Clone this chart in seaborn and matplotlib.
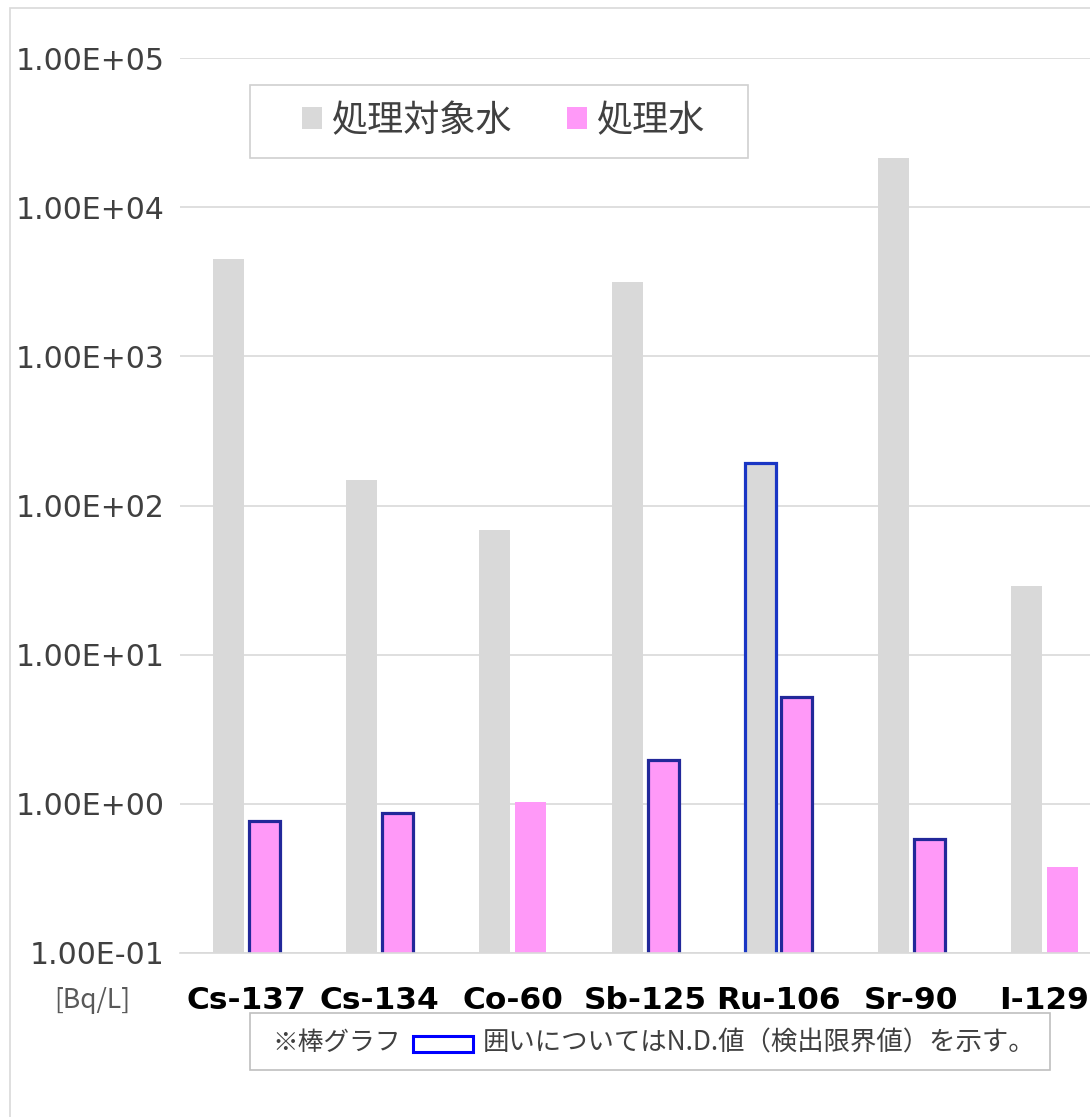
import matplotlib
matplotlib.use("Agg")
import matplotlib.pyplot as plt
from matplotlib.patches import Rectangle, Patch
import seaborn as sns
import pandas as pd

# ---- data ----
nuclides = ["Cs-137", "Cs-134", "Co-60", "Sb-125", "Ru-106", "Sr-90", "I-129"]
target_water = [4500, 148, 68, 3150, 192, 21500, 29]       # 処理対象水
treated_water = [0.77, 0.87, 1.03, 1.97, 5.2, 0.58, 0.38]  # 処理水
nd_target = [False, False, False, False, True, False, False]
nd_treated = [True, True, False, True, True, True, False]
series_names = ["処理対象水", "処理水"]
y_ticks = [1e-1, 1e0, 1e1, 1e2, 1e3, 1e4, 1e5]
y_tick_labels = ["1.00E-01", "1.00E+00", "1.00E+01", "1.00E+02", "1.00E+03", "1.00E+04", "1.00E+05"]

df = pd.DataFrame({
    "nuclide": nuclides * 2,
    "value": target_water + treated_water,
    "series": [series_names[0]] * len(nuclides) + [series_names[1]] * len(nuclides),
})

sns.set_theme(style="white")
plt.rcParams["font.family"] = ["Noto Sans CJK JP", "DejaVu Sans"]

W, H = 1090, 1117
fig = plt.figure(figsize=(W / 100, H / 100), dpi=100)

# outer chart border (chart is cropped on right)
fig.patches.append(Rectangle((10 / W, 1 - 1200 / H), 1200 / W, (1200 - 8) / H,
                             transform=fig.transFigure, fill=False,
                             edgecolor="#d9d9d9", linewidth=1.2))

ax_left, ax_right, ax_top, ax_bot = 180, 1111, 58, 953
ax = fig.add_axes([ax_left / W, 1 - ax_bot / H, (ax_right - ax_left) / W, (ax_bot - ax_top) / H])

colors = {"処理対象水": "#d9d9d9", "処理水": "#ff99f8"}
sns.barplot(data=df, x="nuclide", y="value", hue="series", palette=colors,
            width=0.55, gap=0.15, ax=ax, legend=False, saturation=1)
ax.set_yscale("log")
ax.set_ylim(0.1, 1e5)
ax.set_xlim(-0.5, len(nuclides) - 0.5)

edge_colors = ["#1a36c4", "#22289a"]
for cont, flags, ec in zip(ax.containers, [nd_target, nd_treated], edge_colors):
    for patch, f in zip(cont.patches, flags):
        if f:
            patch.set_edgecolor(ec)
            patch.set_linewidth(2.3)
        else:
            patch.set_edgecolor("none")
            patch.set_linewidth(0)

ax.set_yticks(y_ticks)
ax.set_yticklabels(y_tick_labels)
ax.minorticks_off()
ax.yaxis.grid(True, color="#d9d9d9", linewidth=1.2)
ax.set_axisbelow(True)
for s in ["left", "right", "top"]:
    ax.spines[s].set_visible(False)
ax.spines["bottom"].set_color("#d9d9d9")
ax.spines["bottom"].set_linewidth(1.2)
ax.tick_params(axis="y", length=0, pad=11, labelsize=21.5, labelcolor="#404040")
ax.tick_params(axis="x", length=0, pad=24, labelsize=22.5, labelcolor="#000000")
for lab in ax.get_yticklabels():
    lab.set_family(["DejaVu Sans"])
for lab in ax.get_xticklabels():
    lab.set_fontweight("bold")
    lab.set_family(["DejaVu Sans"])
ax.set_xlabel("")
ax.set_ylabel("")

# legend (frame drawn separately)
fig.patches.append(Rectangle((250 / W, 1 - 158 / H), 498 / W, 73 / H,
                             transform=fig.transFigure, fill=False,
                             edgecolor="#d0d0d0", linewidth=1.2))
handles = [Patch(facecolor=colors[n], edgecolor="none") for n in series_names]
leg = fig.legend(handles, series_names, loc="center",
                 bbox_to_anchor=(504 / W, 1 - 121 / H), ncol=2, fontsize=26,
                 frameon=False, handlelength=0.55, handleheight=0.55,
                 handletextpad=0.28, columnspacing=1.5, borderpad=0.3,
                 labelcolor="#404040")

# unit label
fig.text(92 / W, 1 - 1000 / H, "[Bq/L]", ha="center", va="center", fontsize=19, color="#595959")

# footnote box
fig.patches.append(Rectangle((250 / W, 1 - 1070 / H), 800 / W, 57 / H,
                             transform=fig.transFigure, fill=False,
                             edgecolor="#bfbfbf", linewidth=1.2))
fig.patches.append(Rectangle((413 / W, 1 - 1052 / H), 60 / W, 16 / H,
                             transform=fig.transFigure, fill=False,
                             edgecolor="#0000ff", linewidth=2.2))
fig.text(272 / W, 1 - 1043 / H, "※棒グラフ", ha="left", va="center", fontsize=18.5, color="#404040")
fig.text(483 / W, 1 - 1043 / H, "囲いについてはN.D.値（検出限界値）を示す。",
         ha="left", va="center", fontsize=19, color="#404040")

fig.savefig("out.png", dpi=100)
